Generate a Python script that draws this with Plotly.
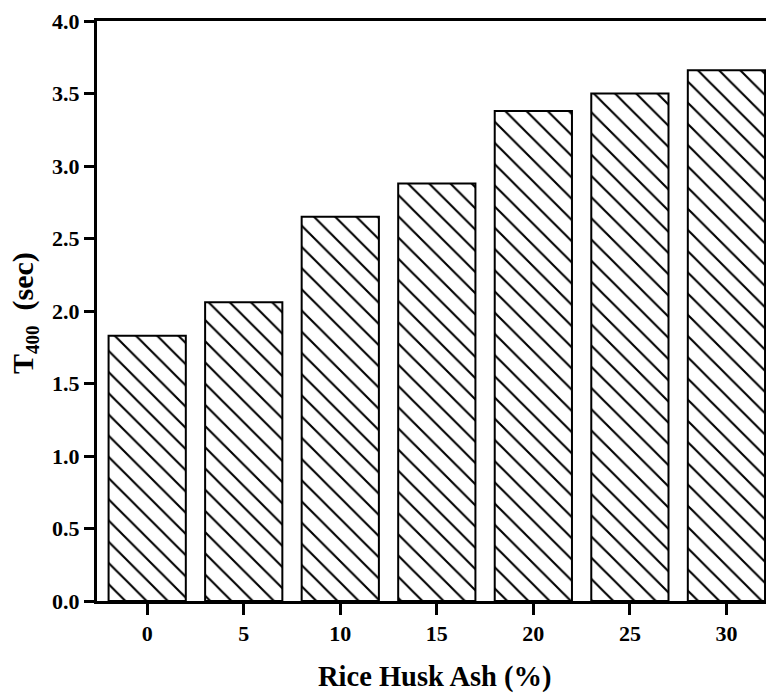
import plotly.graph_objects as go

categories = ["0", "5", "10", "15", "20", "25", "30"]
t400 = [1.83, 2.06, 2.65, 2.88, 3.38, 3.50, 3.66]
y_ticks = [0.0, 0.5, 1.0, 1.5, 2.0, 2.5, 3.0, 3.5, 4.0]
y_tick_text = ["0.0", "0.5", "1.0", "1.5", "2.0", "2.5", "3.0", "3.5", "4.0"]

FONT = "Liberation Serif, Times New Roman, serif"

fig = go.Figure()
fig.add_trace(go.Bar(
    x=list(range(len(categories))),
    y=t400,
    width=0.8,
    marker=dict(
        color="white",
        line=dict(color="black", width=2),
        pattern=dict(shape="\\", fgcolor="black", bgcolor="white",
                     fgopacity=1, size=15, solidity=0.14, fillmode="overlay"),
    ),
    showlegend=False,
))

W, H = 766, 695
ml, mr, mt, mb = 97, 0, 21, 94

fig.update_layout(
    width=W, height=H,
    margin=dict(l=ml, r=mr, t=mt, b=mb, pad=0),
    paper_bgcolor="white",
    plot_bgcolor="white",
    font=dict(family=FONT, color="black"),
    bargap=0.2,
)

fig.update_xaxes(
    range=[-0.52, 6.41],
    tickmode="array",
    tickvals=list(range(len(categories))),
    ticktext=categories,
    ticks="outside", ticklen=11, tickwidth=3, tickcolor="black",
    showline=True, linewidth=3, linecolor="black", mirror=True,
    showgrid=False, zeroline=False,
    tickfont=dict(family=FONT, size=22, color="black", weight="bold"),
)
fig.update_yaxes(
    range=[0, 4.0],
    tickmode="array",
    tickvals=y_ticks,
    ticktext=y_tick_text,
    ticks="outside", ticklen=10, tickwidth=3, tickcolor="black",
    showline=True, linewidth=3, linecolor="black", mirror=False,
    showgrid=False, zeroline=False,
    tickfont=dict(family=FONT, size=22, color="black", weight="bold"),
)

plot_h = H - mt - mb
plot_w = W - ml - mr
fig.add_annotation(
    text="<b>Rice Husk Ash (%)</b>",
    xref="paper", yref="paper",
    x=(435 - ml) / plot_w, y=-(677 - (mt + plot_h)) / plot_h,
    xanchor="center", yanchor="middle",
    showarrow=False,
    font=dict(family=FONT, size=28.5, color="black"),
)
fig.add_annotation(
    text="<b>T<sub><span style=\"font-size:19px\">400</span></sub>&nbsp; (sec)</b>",
    xref="paper", yref="paper",
    x=(24 - ml) / plot_w, y=(mt + plot_h - 313) / plot_h,
    xanchor="center", yanchor="middle",
    textangle=-90,
    showarrow=False,
    font=dict(family=FONT, size=30, color="black"),
)

fig.write_html(
    "out.html",
    config={"displayModeBar": False},
    post_script="document.body.style.margin='0';document.body.style.overflow='hidden';",
)
